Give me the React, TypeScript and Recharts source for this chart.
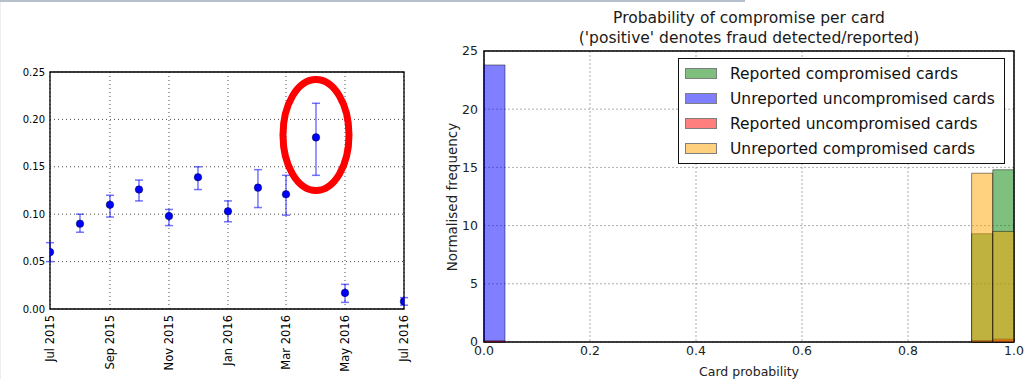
import React from 'react';
import {
  ScatterChart,
  Scatter,
  ErrorBar,
  BarChart,
  Bar,
  XAxis,
  YAxis,
  CartesianGrid,
  ReferenceArea,
  ReferenceDot,
} from 'recharts';

const FONT = '"DejaVu Sans", "Liberation Sans", sans-serif';

// Left panel: monthly compromise rate with error bars
const obsMonths = [
  '2015-07-01', '2015-08-01', '2015-09-01', '2015-10-01', '2015-11-01', '2015-12-01',
  '2016-01-01', '2016-02-01', '2016-03-01', '2016-04-01', '2016-05-01', '2016-07-01',
];
const obsRate = [0.06, 0.09, 0.11, 0.126, 0.098, 0.139, 0.103, 0.128, 0.121, 0.181, 0.017, 0.008];
const obsLow = [0.05, 0.081, 0.097, 0.114, 0.088, 0.126, 0.092, 0.107, 0.099, 0.141, 0.007, 0.004];
const obsHigh = [0.07, 0.1, 0.12, 0.136, 0.105, 0.15, 0.114, 0.147, 0.141, 0.217, 0.026, 0.012];

const dateTicks = ['2015-07-01', '2015-09-01', '2015-11-01', '2016-01-01', '2016-03-01', '2016-05-01', '2016-07-01'];
const dateTickLabels = ['Jul 2015', 'Sep 2015', 'Nov 2015', 'Jan 2016', 'Mar 2016', 'May 2016', 'Jul 2016'];
const rateTicks = [0, 0.05, 0.1, 0.15, 0.2, 0.25];

// highlighted month (red ring)
const highlightMonth = '2016-04-01';
const highlightRate = 0.1835;

// Right panel: histogram of card probability, 25 bins of width 0.04
const binCount = 25;
const repComp = [0, 0, 0, 0, 0, 0, 0, 0, 0, 0, 0, 0, 0, 0, 0, 0, 0, 0, 0, 0, 0, 0, 0, 9.3, 14.8];
const unrepUncomp = [23.8, 0, 0, 0, 0, 0, 0, 0, 0, 0, 0, 0, 0, 0, 0, 0, 0, 0, 0, 0, 0, 0, 0, 0.1, 0.1];
const repUncomp = [0.1, 0, 0, 0, 0, 0, 0, 0, 0, 0, 0, 0, 0, 0, 0, 0, 0, 0, 0, 0, 0, 0, 0, 0.1, 0.25];
const unrepComp = [0, 0, 0, 0, 0, 0, 0, 0, 0, 0, 0, 0, 0, 0, 0, 0, 0, 0, 0, 0, 0, 0, 0, 14.5, 9.5];

const probTicks = [0, 0.2, 0.4, 0.6, 0.8, 1.0];
const freqTicks = [0, 5, 10, 15, 20, 25];

const SERIES = [
  { key: 'repComp', name: 'Reported compromised cards', color: '#008000', values: repComp },
  { key: 'unrepUncomp', name: 'Unreported uncompromised cards', color: '#0000ff', values: unrepUncomp },
  { key: 'repUncomp', name: 'Reported uncompromised cards', color: '#ff0000', values: repUncomp },
  { key: 'unrepComp', name: 'Unreported compromised cards', color: '#ffa500', values: unrepComp },
];

const toTime = (d: string) => Date.parse(d + 'T00:00:00Z');

const obsData = obsMonths.map((m, i) => ({
  t: toTime(m),
  rate: obsRate[i],
  err: [obsRate[i] - obsLow[i], obsHigh[i] - obsRate[i]],
}));

const histData = Array.from({ length: binCount }, (_, i) => {
  const row: Record<string, any> = { bin: i, center: (i + 0.5) / binCount };
  SERIES.forEach((s) => {
    row[s.key] = s.values[i] || null;
  });
  return row;
});

const tStart = toTime(dateTicks[0]);
const tEnd = toTime(dateTicks[dateTicks.length - 1]);

const DateTick = (props: any) => {
  const { x, y, payload } = props;
  const idx = dateTicks.findIndex((d) => toTime(d) === payload.value);
  return (
    <g transform={`translate(${x},${y})`}>
      <text
        transform="rotate(-90)"
        x={-6}
        y={0}
        textAnchor="end"
        dominantBaseline="central"
        fontSize={11.5}
        fontFamily={FONT}
        fill="#000"
      >
        {dateTickLabels[idx]}
      </text>
    </g>
  );
};

const Dot = (props: any) => (
  <circle cx={props.cx} cy={props.cy} r={3.8} fill="#0000ff" stroke="#000" strokeWidth={0.4} />
);

const Ring = (props: any) => (
  <ellipse cx={props.cx} cy={props.cy} rx={33} ry={55.5} fill="none" stroke="#ff0000" strokeWidth={7} />
);

const RatePanel = () => (
  <ScatterChart width={420} height={379} margin={{ top: 72, right: 16, bottom: 10, left: 6 }}>
    <CartesianGrid stroke="#000" strokeDasharray="1 3" strokeWidth={0.7} />
    <XAxis
      type="number"
      dataKey="t"
      domain={[tStart, tEnd]}
      ticks={dateTicks.map(toTime)}
      allowDataOverflow
      height={60}
      axisLine={false}
      tickLine={false}
      tickSize={0}
      tickMargin={0}
      tick={<DateTick />}
      interval={0}
    />
    <YAxis
      type="number"
      dataKey="rate"
      domain={[0, 0.25]}
      ticks={rateTicks}
      allowDataOverflow
      width={44}
      axisLine={false}
      tickLine={false}
      tickSize={3}
      tickMargin={2}
      tickFormatter={(v: number) => v.toFixed(2)}
      tick={{ fontSize: 10, fontFamily: FONT, fill: '#000' }}
      interval={0}
    />
    <Scatter data={obsData} shape={<Dot />} isAnimationActive={false}>
      <ErrorBar
        dataKey="err"
        direction="y"
        width={4}
        stroke="#0000ff"
        strokeOpacity={0.55}
        strokeWidth={1.5}
        isAnimationActive={false}
      />
    </Scatter>
    <ReferenceArea x1={tStart} x2={tEnd} y1={0} y2={0.25} fill="none" stroke="#000" strokeWidth={1.3} />
    <ReferenceDot x={toTime(highlightMonth)} y={highlightRate} shape={<Ring />} />
  </ScatterChart>
);

const HistPanel = () => (
  <BarChart
    width={612}
    height={379}
    data={histData}
    barCategoryGap={0}
    barGap={0}
    margin={{ top: 51, right: 18, bottom: 12, left: 0 }}
  >
    <CartesianGrid xAxisId="num" stroke="#999" strokeDasharray="2 2" strokeWidth={0.8} />
    <XAxis
      xAxisId="num"
      type="number"
      dataKey="center"
      domain={[0, 1]}
      ticks={probTicks}
      height={25}
      axisLine={false}
      tickLine={false}
      tickSize={2}
      tickMargin={2}
      tickFormatter={(v: number) => v.toFixed(1)}
      tick={{ fontSize: 12.5, fontFamily: FONT, fill: '#222' }}
      interval={0}
    />
    {SERIES.map((s) => (
      <XAxis key={'ax-' + s.key} xAxisId={s.key} dataKey="bin" type="category" hide padding={{ left: 0, right: 0 }} />
    ))}
    <YAxis
      type="number"
      domain={[0, 25]}
      ticks={freqTicks}
      width={64}
      axisLine={false}
      tickLine={false}
      tickSize={4}
      tickMargin={2}
      tick={{ fontSize: 12.5, fontFamily: FONT, fill: '#222' }}
      interval={0}
    />
    {SERIES.map((s) => (
      <Bar
        key={s.key}
        xAxisId={s.key}
        dataKey={s.key}
        fill={s.color}
        fillOpacity={0.5}
        stroke="#000"
        strokeOpacity={0.45}
        strokeWidth={1}
        isAnimationActive={false}
      />
    ))}
    <ReferenceArea xAxisId="num" x1={0} x2={1} y1={0} y2={25} fill="none" stroke="#000" strokeWidth={1.5} />
  </BarChart>
);

export default function App() {
  return (
    <div
      style={{
        position: 'absolute',
        left: 0,
        top: 0,
        width: 1032,
        height: 379,
        background: '#fff',
        fontFamily: FONT,
        overflow: 'hidden',
      }}
    >
      <div style={{ position: 'absolute', left: 0, top: 0, width: 745, height: 2, background: '#b8bfcc' }} />
      <div style={{ position: 'absolute', left: 0, top: 2, width: 1, height: 377, background: '#eceef2' }} />

      <div style={{ position: 'absolute', left: 0, top: 0 }}>
        <RatePanel />
      </div>

      <div style={{ position: 'absolute', left: 420, top: 0 }}>
        <HistPanel />
      </div>

      {/* right panel title and axis labels */}
      <div
        style={{
          position: 'absolute',
          left: 484,
          width: 530,
          top: 8,
          textAlign: 'center',
          fontSize: 15.5,
          lineHeight: '20px',
          color: '#1a1a1a',
        }}
      >
        <div>Probability of compromise per card</div>
        <div>('positive' denotes fraud detected/reported)</div>
      </div>
      <div
        style={{
          position: 'absolute',
          left: 452 - 100,
          top: 197 - 8,
          width: 200,
          height: 16,
          lineHeight: '16px',
          textAlign: 'center',
          fontSize: 13.5,
          color: '#222',
          transform: 'rotate(-90deg)',
        }}
      >
        Normalised frequency
      </div>
      <div
        style={{
          position: 'absolute',
          left: 484,
          width: 530,
          top: 364,
          lineHeight: '16px',
          textAlign: 'center',
          fontSize: 12.5,
          color: '#222',
        }}
      >
        Card probability
      </div>

      {/* legend */}
      <div
        style={{
          position: 'absolute',
          left: 678,
          top: 58,
          width: 325,
          height: 102,
          border: '1.5px solid #111',
          background: '#fff',
          boxSizing: 'content-box',
          paddingTop: 2,
        }}
      >
        {SERIES.map((s) => (
          <div key={s.key} style={{ display: 'flex', alignItems: 'center', height: 25 }}>
            <div
              style={{
                marginLeft: 6,
                width: 30,
                height: 9,
                background: s.color,
                opacity: 0.5,
                border: '1px solid #000',
              }}
            />
            <div style={{ marginLeft: 13, fontSize: 15.5, color: '#111', whiteSpace: 'nowrap' }}>{s.name}</div>
          </div>
        ))}
      </div>
    </div>
  );
}
